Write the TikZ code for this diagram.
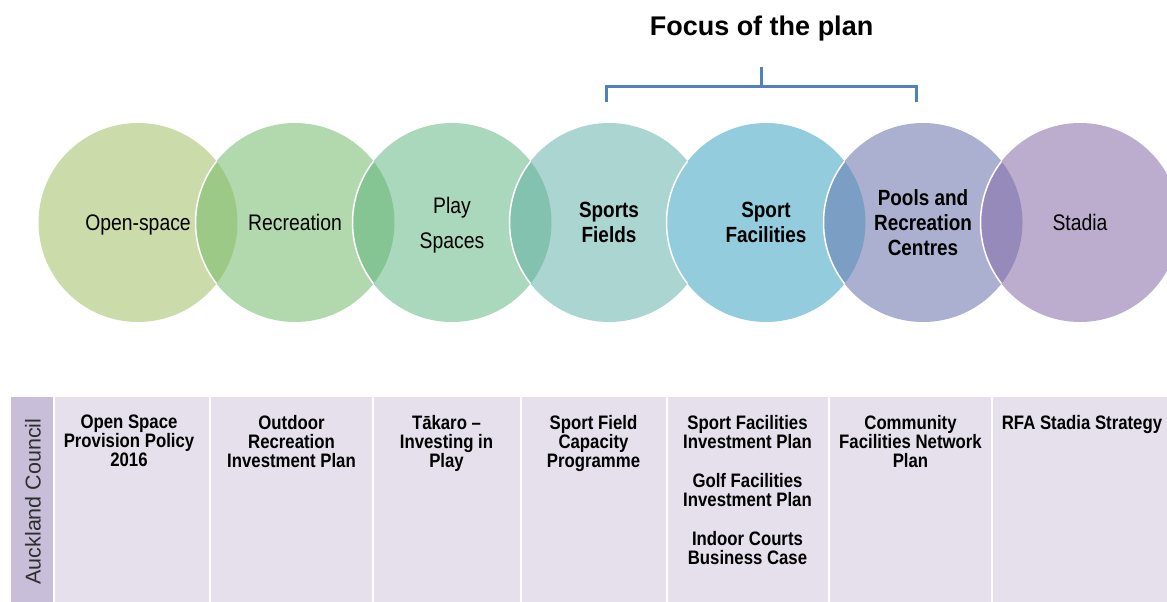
\documentclass[tikz,border=0pt]{standalone}
\usepackage{fontspec}
\setmainfont{Liberation Sans}
\newfontfamily\narrowfont{Liberation Sans}[FakeStretch=0.86]
\usepackage{tikz}
\usetikzlibrary{positioning}

\definecolor{openspace}{HTML}{CCDBAA}
\definecolor{recreation}{HTML}{B2D9AD}
\definecolor{play}{HTML}{AAD8BC}
\definecolor{fields}{HTML}{ABD5D1}
\definecolor{facilities}{HTML}{93CCDC}
\definecolor{pools}{HTML}{ABB0D0}
\definecolor{stadia}{HTML}{BCADCE}
\definecolor{lensA}{HTML}{9CC986}
\definecolor{lensB}{HTML}{85C594}
\definecolor{lensC}{HTML}{83C2AE}
\definecolor{lensE}{HTML}{7B9EC4}
\definecolor{lensF}{HTML}{968ABA}
\definecolor{bracketblue}{HTML}{4F81BD}
\definecolor{council}{HTML}{C9BEDA}
\definecolor{cellfill}{HTML}{E5E0EC}
\definecolor{councilgrey}{HTML}{2E2E2E}

\begin{document}
\begin{tikzpicture}[x=1pt, y=-1pt,
  ring/.style={circle, minimum size=199pt, inner sep=0pt, align=center, text=black,
    text depth=0pt, font=\narrowfont\fontsize{22.5}{25}\selectfont},
  boldring/.style={ring, font=\narrowfont\bfseries\fontsize{22}{25}\selectfont},
  cell/.style={anchor=north, align=center, inner sep=0pt,
    font=\narrowfont\bfseries\fontsize{19.5}{19}\selectfont},
  bracket/.style={draw=bracketblue, line width=3pt}]

  \clip (0,0) rectangle (1167,602);

  \node[anchor=base, font=\bfseries\fontsize{27}{30}\selectfont] (focus) at (761.5,36) {Focus of the plan};

  % circles
  \node[ring, fill=openspace] (openspace) at (138,222.5) {Open-space};
  \node[ring, fill=recreation] (recreation) at (295,222.5) {Recreation};
  \node[ring, fill=play] (play) at (452,222.5) {Play\\[10pt]Spaces};
  \node[boldring, fill=fields] (fields) at (609,222.5) {Sports\\Fields};
  \node[boldring, fill=facilities] (facilities) at (766,222.5) {Sport\\Facilities};
  \node[boldring, fill=pools] (pools) at (923,222.5) {Pools and\\Recreation\\Centres};
  \node[ring, fill=stadia] (stadia) at (1080,222.5) {Stadia};

  % overlaps
  \foreach \a/\b/\lens in {openspace/recreation/lensA, recreation/play/lensB, play/fields/lensC,
      fields/facilities/facilities, facilities/pools/lensE, pools/stadia/lensF} {
    \begin{scope}
      \clip (\a.center) circle[radius=99.5pt];
      \fill[\lens] (\b.center) circle[radius=99.5pt];
      \draw[white, line width=1.5pt] (\b.center) circle[radius=99.5pt];
    \end{scope}
  }

  % bracket
  \coordinate (stem) at (761,67);
  \coordinate (bar) at (761,86);
  \coordinate (fieldsend) at (606,102);
  \coordinate (poolsend) at (916,102);
  \draw[bracket] (stem) -- (bar);
  \draw[bracket] (fieldsend) |- (bar) -| (poolsend);

  % table
  \fill[council] (11,397) rectangle (53,610);
  \fill[cellfill] (55,397) rectangle (1180,610);
  \foreach \x in {210,373,521,667,829,992}
    \draw[white, line width=2pt] (\x,397) -- (\x,610);

  \node[rotate=90, text=councilgrey, font=\fontsize{21.5}{24}\selectfont] (auckland) at (33,501.5) {Auckland Council};

  \node[cell] (policy) at (129,415) {Open Space\\Provision Policy\\2016};
  \node[cell] (outdoor) at (291.5,415) {Outdoor\\Recreation\\Investment Plan};
  \node[cell] (takaro) at (446.5,415) {Tākaro –\\Investing in\\Play};
  \node[cell] (capacity) at (593.5,415) {Sport Field\\Capacity\\Programme};
  \node[cell] (sportplan) at (747.5,415) {Sport Facilities\\Investment Plan\\[20pt]Golf Facilities\\Investment Plan\\[20pt]Indoor Courts\\Business Case};
  \node[cell] (network) at (910.5,415) {Community\\Facilities Network\\Plan};
  \node[cell] (stadiaplan) at (1082,415) {RFA Stadia Strategy};
\end{tikzpicture}
\end{document}
